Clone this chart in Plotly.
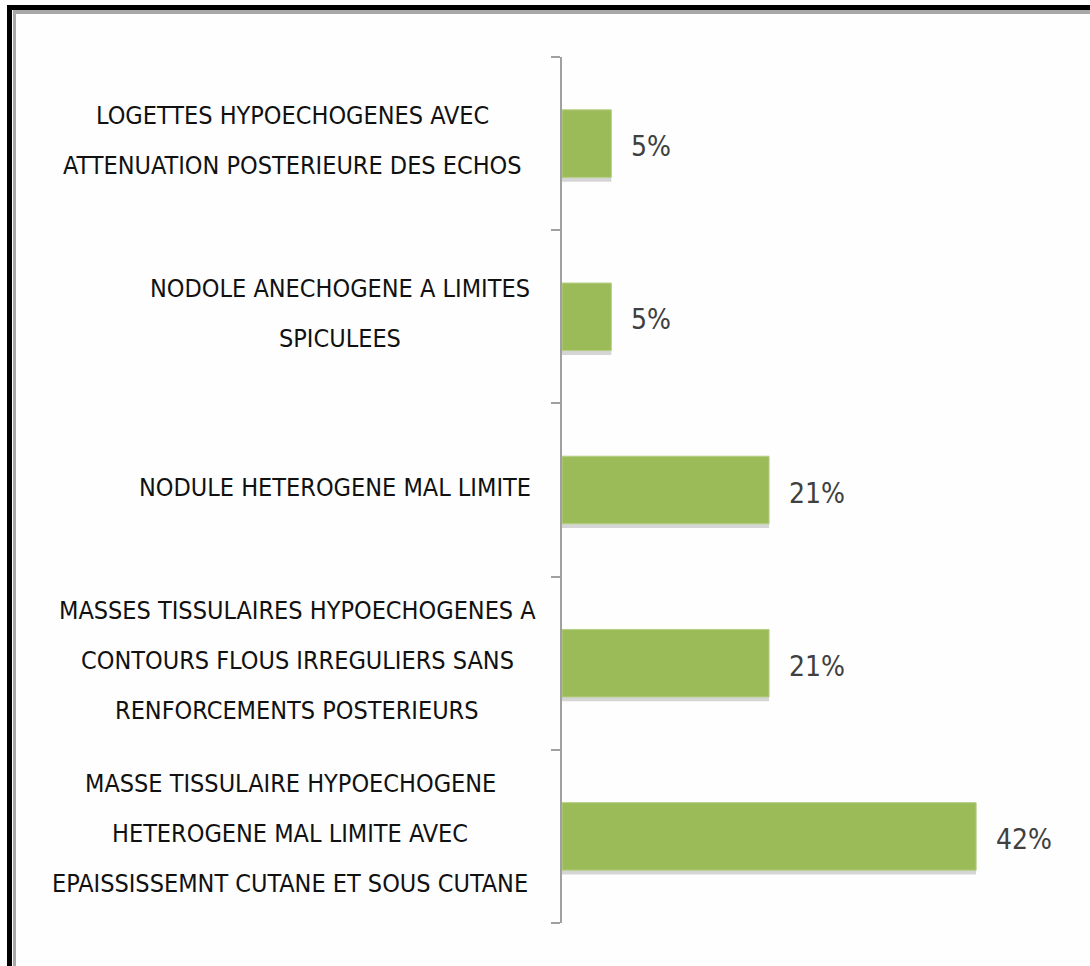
import plotly.graph_objects as go

# ---- data (bottom to top) ----
categories = [
    "MASSE TISSULAIRE HYPOECHOGENE HETEROGENE MAL LIMITE AVEC EPAISSISSEMNT CUTANE ET SOUS CUTANE",
    "MASSES TISSULAIRES HYPOECHOGENES A CONTOURS FLOUS IRREGULIERS SANS RENFORCEMENTS POSTERIEURS",
    "NODULE HETEROGENE MAL LIMITE",
    "NODOLE ANECHOGENE A LIMITES SPICULEES",
    "LOGETTES HYPOECHOGENES AVEC ATTENUATION POSTERIEURE DES ECHOS",
]
values = [42, 21, 21, 5, 5]
value_labels = ["42%", "21%", "21%", "5%", "5%"]
label_lines = [
    ["MASSE TISSULAIRE HYPOECHOGENE", "HETEROGENE MAL LIMITE AVEC", "EPAISSISSEMNT CUTANE ET SOUS CUTANE"],
    ["MASSES TISSULAIRES HYPOECHOGENES A", "CONTOURS FLOUS IRREGULIERS SANS", "RENFORCEMENTS POSTERIEURS"],
    ["NODULE HETEROGENE MAL LIMITE"],
    ["NODOLE ANECHOGENE A LIMITES", "SPICULEES"],
    ["LOGETTES HYPOECHOGENES AVEC", "ATTENUATION POSTERIEURE DES ECHOS"],
]

W, H = 1090, 966
ML, MR, MT, MB = 562, 35, 57, 43
PW, PH = W - ML - MR, H - MT - MB

def px_x(p):
    return (p - ML) / PW

def px_y(p):
    return 1 - (p - MT) / PH

FONT = "DejaVu Sans Condensed, Liberation Sans Narrow, sans-serif"
BAR_W = 0.39

fig = go.Figure()
# soft shadow under each bar
fig.add_trace(go.Bar(
    y=categories, x=values, orientation="h",
    marker=dict(color="rgba(0,0,0,0.16)", line=dict(width=0)),
    width=BAR_W, offset=-BAR_W / 2 - 0.025, hoverinfo="skip",
))
fig.add_trace(go.Bar(
    y=categories, x=values, orientation="h",
    marker=dict(color="#9BBB59", line=dict(color="#B5CF85", width=1)),
    width=BAR_W, offset=-BAR_W / 2, hoverinfo="skip",
))

annotations = []
# category labels: centered blocks, one annotation per line
centers = [290, 297, 335, 340, 292]
for cat, lines, cx in zip(categories, label_lines, centers):
    n = len(lines)
    spacing = 50
    for i, line in enumerate(lines):
        off = ((n - 1) / 2 - i) * spacing + 3
        annotations.append(dict(
            x=px_x(cx), xref="paper", y=cat, yref="y", yshift=off,
            text=line, showarrow=False, xanchor="center", yanchor="middle",
            font=dict(family=FONT, size=25, color="#111111"),
        ))
# value labels
for cat, v, t in zip(categories, values, value_labels):
    annotations.append(dict(
        x=v, xref="x", y=cat, yref="y", yshift=-3, xshift=18,
        text=t, showarrow=False, xanchor="left", yanchor="middle",
        font=dict(family=FONT, size=28, color="#404040"),
    ))

shapes = [
    # outer black frame (top and left)
    dict(type="rect", xref="paper", yref="paper", x0=px_x(7), x1=px_x(12), y0=px_y(966), y1=px_y(5),
         fillcolor="black", line=dict(width=0), layer="above"),
    dict(type="rect", xref="paper", yref="paper", x0=px_x(7), x1=px_x(1090), y0=px_y(10), y1=px_y(5),
         fillcolor="black", line=dict(width=0), layer="above"),
    # inner gray frame lines
    dict(type="rect", xref="paper", yref="paper", x0=px_x(13), x1=px_x(16), y0=px_y(966), y1=px_y(11),
         fillcolor="#A8A8A8", line=dict(width=0), layer="above"),
    dict(type="rect", xref="paper", yref="paper", x0=px_x(13), x1=px_x(1090), y0=px_y(14), y1=px_y(10),
         fillcolor="#A8A8A8", line=dict(width=0), layer="above"),
]

fig.update_layout(
    width=W, height=H,
    margin=dict(l=ML, r=MR, t=MT, b=MB),
    paper_bgcolor="#FEFEFE", plot_bgcolor="#FEFEFE",
    showlegend=False,
    barmode="overlay",
    annotations=annotations,
    shapes=shapes,
    xaxis=dict(range=[0, 50], visible=False, showgrid=False, zeroline=False, fixedrange=True),
    yaxis=dict(
        type="category", categoryorder="array", categoryarray=categories,
        showticklabels=False, showgrid=False, zeroline=False,
        showline=True, linecolor="#A0A0A0", linewidth=2,
        ticks="outside", tickson="boundaries", ticklen=9, tickcolor="#A0A0A0", tickwidth=2,
        range=[-0.5, 4.5], fixedrange=True,
    ),
)

fig.write_html("out.html", config={"displayModeBar": False},
               post_script="document.body.style.margin='0';")
